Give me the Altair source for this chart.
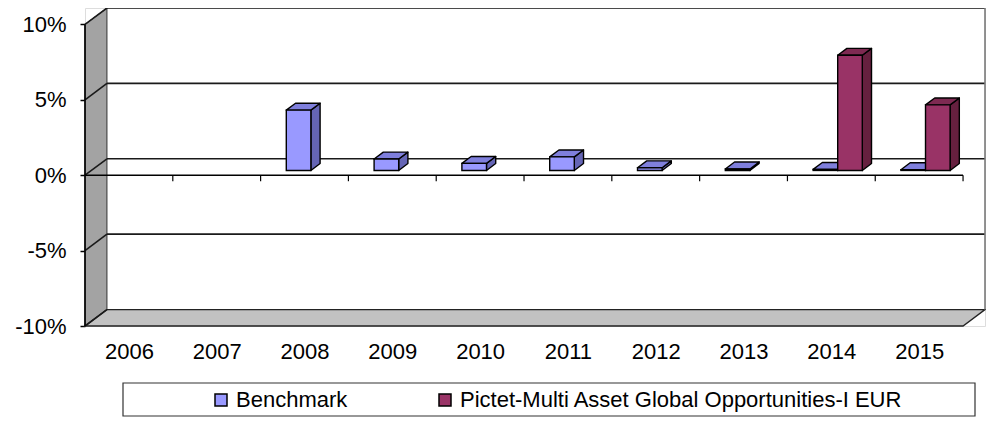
import altair as alt
import pandas as pd

# ---------------- data ----------------
years = ["2006", "2007", "2008", "2009", "2010", "2011", "2012", "2013", "2014", "2015"]
series_names = ["Benchmark", "Pictet-Multi Asset Global Opportunities-I EUR"]
benchmark = [None, None, 4.0, 0.76, 0.47, 0.9, 0.18, 0.1, 0.07, 0.05]
pictet = [None, None, None, None, None, None, None, None, 7.64, 4.35]
y_ticks = [-10, -5, 0, 5, 10]

# ---------------- style ----------------
front_colors = ["#9999FF", "#993366"]
top_colors = ["#7F7FDC", "#7E2A52"]
side_colors = ["#6565B5", "#66203F"]
FONT = "Liberation Sans"

N = len(years)
DX = 0.25      # depth of the 3-D box, in x units
DY = 1.09      # depth of the 3-D box, in y units (%)
F0, F1 = 0.29, 0.71   # front/back depth fraction of the bars
slots = [(0.22, 0.5), (0.5, 0.78)]
YMIN, YMAX = -10, 10
W, H = 900, 318

xscale = alt.Scale(domain=[0, N + DX], nice=False, zero=False)
yscale = alt.Scale(domain=[YMIN, YMAX + DY], nice=False, zero=False)

label_expr = "[" + ",".join("'%s'" % y for y in years) + "][floor(datum.value)]"
x_axis = alt.Axis(values=[i + 0.5 for i in range(N)], labelExpr=label_expr, domain=False,
                  ticks=False, grid=False, title=None, labelFontSize=22, labelFont=FONT,
                  labelColor="black", labelPadding=15, labelFlush=False, labelOverlap=False)
y_axis = alt.Axis(values=y_ticks, labelExpr="datum.value + '%'", domain=False, grid=False,
                  title=None, tickColor="black", tickSize=5, tickWidth=1.5, labelFontSize=22,
                  labelFont=FONT, labelColor="black", labelPadding=14)


def X(f):
    return alt.X(f, type="quantitative", scale=xscale, axis=x_axis, stack=None)


def Y(f):
    return alt.Y(f, type="quantitative", scale=yscale, axis=y_axis, stack=None)


# ---------------- build tables ----------------
rows_front, rows_side, rows_top = [], [], []
for s, vals in enumerate([benchmark, pictet]):
    a, b = slots[s]
    for i, v in enumerate(vals):
        if v is None:
            continue
        bid = "%d-%d" % (s, i)
        xa, xb = i + a, i + b
        rows_front.append(dict(series=series_names[s], x=xa + F0 * DX, x2=xb + F0 * DX,
                               y=F0 * DY, y2=v + F0 * DY))
        for f in (F0, F1):
            rows_side.append(dict(bid=bid, fill=side_colors[s], x=xb + f * DX,
                                  y=f * DY, y2=v + f * DY))
            rows_top.append(dict(bid=bid, fill=top_colors[s], y=v + f * DY,
                                 x=xa + f * DX, x2=xb + f * DX))

df_front = pd.DataFrame(rows_front)
df_side = pd.DataFrame(rows_side)
df_top = pd.DataFrame(rows_top)

df_wall = pd.DataFrame(dict(x=[0, DX], y=[YMIN, YMIN + DY], y2=[YMAX, YMAX + DY]))
df_floor = pd.DataFrame(dict(y=[YMIN, YMIN + DY], x=[0, DX], x2=[N, N + DX]))
df_grid = pd.DataFrame(dict(x=[DX] * 4, x2=[N + DX] * 4, y=[v + DY for v in y_ticks[1:]]))
df_diag = pd.DataFrame(dict(x=[0] * 5, x2=[DX] * 5, y=y_ticks, y2=[v + DY for v in y_ticks]))
df_vert = pd.DataFrame(dict(x=[0, N + DX], y=[YMIN, YMIN + DY], y2=[YMAX, YMAX + DY],
                            c=["black", "#7a7a7a"]))
df_zero = pd.DataFrame(dict(x=[0], x2=[N], y=[0]))
px_per = H / (YMAX + DY - YMIN)
df_ticks = pd.DataFrame(dict(x=list(range(1, N + 1)), y=[0] * N, y2=[-6 / px_per] * N))

# ---------------- layers ----------------
wall = alt.Chart(df_wall).mark_area(orient="vertical", fill="#A3A3A3", stroke="#333333",
                                    strokeWidth=1, opacity=1).encode(
    x=X("x"), y=Y("y"), y2="y2")
floor = alt.Chart(df_floor).mark_area(orient="horizontal", fill="#C2C2C2", stroke="#222222",
                                      strokeWidth=1.3, opacity=1).encode(
    y=Y("y"), x=X("x"), x2="x2")
grid = alt.Chart(df_grid).mark_rule(color="#1a1a1a", strokeWidth=1.6).encode(
    x=X("x"), x2="x2", y=Y("y"))
diag = alt.Chart(df_diag).mark_rule(color="#1a1a1a", strokeWidth=1.6).encode(
    x=X("x"), x2="x2", y=Y("y"), y2="y2")
vert = alt.Chart(df_vert).mark_rule(strokeWidth=1.6).encode(
    x=X("x"), y=Y("y"), y2="y2", color=alt.Color("c:N", scale=None))
sides = alt.Chart(df_side).mark_area(orient="vertical", stroke="black", strokeWidth=1.4,
                                     strokeJoin="round", opacity=1).encode(
    x=X("x"), y=Y("y"), y2="y2", detail="bid:N", fill=alt.Fill("fill:N", scale=None))
tops = alt.Chart(df_top).mark_area(orient="horizontal", stroke="black", strokeWidth=1.4,
                                   strokeJoin="round", opacity=1).encode(
    y=Y("y"), x=X("x"), x2="x2", detail="bid:N", fill=alt.Fill("fill:N", scale=None))
fronts = alt.Chart(df_front).mark_rect(stroke="black", strokeWidth=1.4, opacity=1).encode(
    x=X("x"), x2="x2", y=Y("y"), y2="y2",
    color=alt.Color("series:N", scale=alt.Scale(domain=series_names, range=front_colors),
                    sort=series_names,
                    legend=alt.Legend(orient="none", legendX=125, legendY=381,
                                      direction="horizontal", title=None, symbolType="square",
                                      symbolSize=144, symbolStrokeColor="black",
                                      symbolStrokeWidth=1.5, symbolOpacity=1,
                                      labelFontSize=22, labelFont=FONT, labelColor="black",
                                      labelLimit=700, columnPadding=86, labelOffset=4)))
zero = alt.Chart(df_zero).mark_rule(color="black", strokeWidth=1.6).encode(
    x=X("x"), x2="x2", y=Y("y"))
ticks = alt.Chart(df_ticks).mark_rule(color="black", strokeWidth=1.2).encode(
    x=X("x"), y=Y("y"), y2="y2")
legend_box = alt.Chart(pd.DataFrame({"k": [0]})).mark_rect(
    fill="white", stroke="#333333", strokeWidth=1.2).encode(
    x=alt.value(38), x2=alt.value(890), y=alt.value(375), y2=alt.value(408))

chart = alt.layer(wall, floor, grid, diag, vert, sides, tops, fronts, zero, ticks,
                  legend_box).properties(
    width=W, height=H,
    autosize=alt.AutoSizeParams(type="none"),
    padding={"left": 77, "top": 0, "right": 1, "bottom": 91},
).configure_view(stroke=None).configure(background="white")

chart.save("out.html", embed_options={"renderer": "svg", "actions": False})
